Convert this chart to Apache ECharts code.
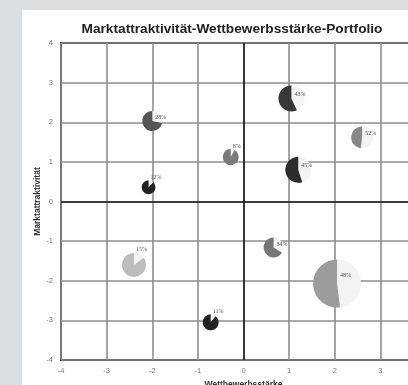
<!DOCTYPE html>
<html>
<head>
<meta charset="utf-8">
<script src="https://cdn.jsdelivr.net/npm/echarts@6/dist/echarts.min.js"></script>
<style>
  html, body { margin: 0; padding: 0; width: 408px; height: 385px; overflow: hidden; background: #dcdddf; }
  #chart { position: absolute; left: 22px; top: 10px; width: 420px; height: 380px; background: #fff; }
</style>
</head>
<body>
<div id="chart"></div>
<script>
// Geschäftseinheiten
const einheiten = ['A', 'B', 'C', 'D', 'E', 'F', 'G', 'H', 'I', 'J']
const wettbewerb = [1.05, -2.0, -0.28, -2.08, 1.2, 2.6, 0.66, -2.4, 2.05, -0.72]
const attraktivitaet = [2.6, 2.03, 1.12, 0.36, 0.8, 1.62, -1.16, -1.6, -2.07, -3.05]
const volumen = [42, 25, 16, 12, 42, 30, 25, 36, 144, 16]
const anteil = [43, 28, 8, 12, 45, 52, 34, 15, 48, 11]
const ticks = [-4, -3, -2, -1, 0, 1, 2, 3, 4]

const farben = ['#383838', '#555555', '#7a7a7a', '#222222', '#2c2c2c', '#888888', '#777777', '#bdbdbd', '#9c9c9c', '#222222']

const chart = echarts.init(document.getElementById('chart'))

const punkte = einheiten.map((e, i) => [wettbewerb[i], attraktivitaet[i], volumen[i], anteil[i]])

const renderPie = (params, api) => {
  const c = api.coord([api.value(0), api.value(1)])
  const r = 2 * Math.sqrt(api.value(2))
  const p = api.value(3) / 100
  const a0 = -Math.PI / 2
  const a1 = a0 + 2 * Math.PI * p
  const oben = p < 0.2
  return {
    type: 'group',
    children: [
      { type: 'sector', shape: { cx: c[0], cy: c[1], r: r, startAngle: a0, endAngle: a1 }, style: { fill: '#f3f3f3' } },
      { type: 'sector', shape: { cx: c[0], cy: c[1], r: r, startAngle: a1, endAngle: a0 + 2 * Math.PI }, style: { fill: farben[params.dataIndex] } },
      {
        type: 'text',
        x: c[0] + (oben ? 2 : 3),
        y: oben ? c[1] - r - 3 : c[1] - r * 0.35,
        style: { text: api.value(3) + '%', fontSize: 6, fill: '#555', verticalAlign: 'middle', fontFamily: 'Liberation Serif' }
      }
    ]
  }
}

chart.setOption({
  animation: false,
  title: {
    text: 'Marktattraktivität-Wettbewerbsstärke-Portfolio',
    left: 'center',
    top: 7,
    textStyle: { fontSize: 13.7, fontWeight: 'bold', color: '#222', fontFamily: 'Liberation Sans' }
  },
  grid: {
    left: 39, right: 16, top: 33, bottom: 30,
    outerBoundsMode: 'none', containLabel: false,
    show: true, borderColor: '#222', borderWidth: 2
  },
  xAxis: {
    type: 'value', min: ticks[0], max: ticks[ticks.length - 1], interval: 1,
    name: 'Wettbewerbsstärke', nameLocation: 'middle', nameGap: 20, nameMoveOverlap: false,
    nameTextStyle: { fontSize: 8.5, fontWeight: 'bold', color: '#333', fontFamily: 'Liberation Sans' },
    axisLine: { show: false }, axisTick: { show: false },
    axisLabel: { fontSize: 7.5, color: '#777', margin: 7, fontFamily: 'Liberation Sans' },
    splitLine: { lineStyle: { color: '#8e8e8e', width: 1.6 } }
  },
  yAxis: {
    type: 'value', min: ticks[0], max: ticks[ticks.length - 1], interval: 1,
    name: 'Marktattraktivität', nameLocation: 'middle', nameGap: 19, nameRotate: 90, nameMoveOverlap: false,
    nameTextStyle: { fontSize: 8.5, fontWeight: 'bold', color: '#333', fontFamily: 'Liberation Sans' },
    axisLine: { show: false }, axisTick: { show: false },
    axisLabel: { fontSize: 7.5, color: '#777', margin: 8, fontFamily: 'Liberation Sans' },
    splitLine: { lineStyle: { color: '#8e8e8e', width: 1.6 } }
  },
  series: [
    {
      type: 'line',
      data: [],
      silent: true,
      markLine: {
        silent: true,
        symbol: 'none',
        label: { show: false },
        lineStyle: { color: '#1a1a1a', width: 1.6, type: 'solid' },
        data: [{ xAxis: 0 }, { yAxis: 0 }]
      }
    },
    {
      type: 'custom',
      renderItem: renderPie,
      data: punkte,
      z: 5
    }
  ]
})
</script>
</body>
</html>
